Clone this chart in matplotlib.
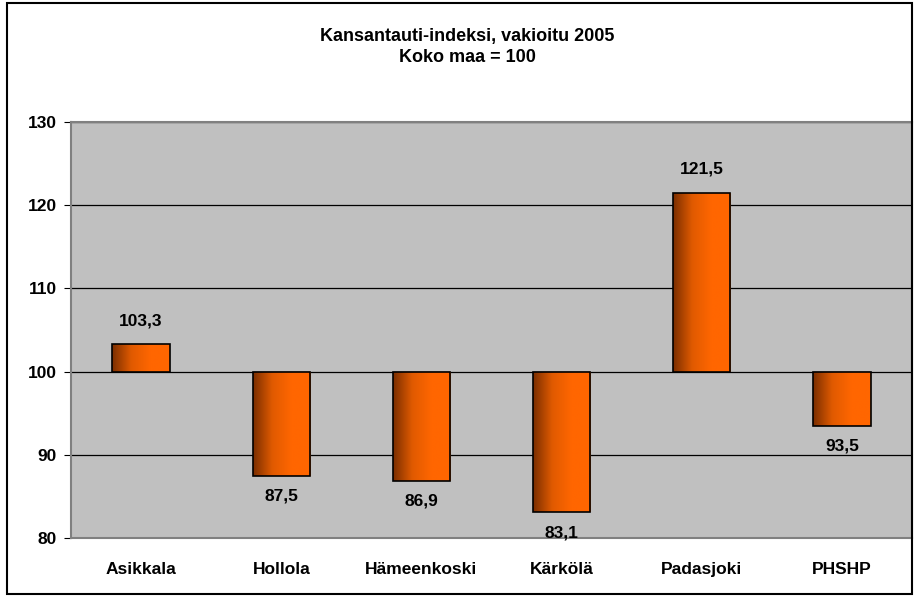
import matplotlib.pyplot as plt
import numpy as np
from matplotlib.patches import Rectangle
from matplotlib.colors import LinearSegmentedColormap

plt.rcParams['font.family'] = ['Liberation Sans', 'DejaVu Sans']
plt.rcParams['font.weight'] = 'bold'

# data
kunnat = ['Asikkala', 'Hollola', 'Hämeenkoski', 'Kärkölä', 'Padasjoki', 'PHSHP']
indeksi = [103.3, 87.5, 86.9, 83.1, 121.5, 93.5]
perustaso = 100
y_ticks = [80, 90, 100, 110, 120, 130]

fig = plt.figure(figsize=(9.17, 5.97), dpi=100)
ax = fig.add_axes([71 / 917, 1 - 538 / 597, 841 / 917, 416 / 597])
ax.set_facecolor('#C0C0C0')

x = np.arange(len(kunnat))
leveys = 0.41
gradient = np.linspace(0, 1, 256).reshape(1, -1)
cmap = LinearSegmentedColormap.from_list('oranssi', ['#7A2E00', '#E05A00', '#FF6600', '#FF6600'])

for xi, v in zip(x, indeksi):
    ala, yla = min(v, perustaso), max(v, perustaso)
    img = ax.imshow(gradient, cmap=cmap, aspect='auto', zorder=3,
                    extent=[xi - leveys / 2, xi + leveys / 2, ala, yla])
    rect = Rectangle((xi - leveys / 2, ala), leveys, yla - ala,
                     facecolor='none', edgecolor='black', lw=1.2, zorder=4)
    ax.add_patch(rect)
    img.set_clip_path(rect)
    teksti = f'{v:.1f}'.replace('.', ',')
    if v >= perustaso:
        ax.text(xi, yla + 1.9, teksti, ha='center', va='bottom', fontsize=12.5, fontweight='bold')
    else:
        ax.text(xi, ala - 1.6, teksti, ha='center', va='top', fontsize=12.5, fontweight='bold')

ax.set_xlim(-0.5, len(kunnat) - 0.5)
ax.set_ylim(80, 130)
ax.set_yticks(y_ticks)
ax.set_yticklabels([str(t) for t in y_ticks], fontsize=12.5, fontweight='bold')
ax.set_xticks(x)
ax.set_xticklabels(kunnat, fontsize=12.5, fontweight='bold')
ax.tick_params(axis='x', length=0, pad=17)
ax.tick_params(axis='y', length=5, direction='out', pad=5)
ax.grid(axis='y', color='black', lw=0.9, zorder=1)
ax.set_axisbelow(True)
for side in ['left', 'bottom', 'top', 'right']:
    ax.spines[side].set_color('#808080')
    ax.spines[side].set_linewidth(1.5)

fig.text(0.51, 1 - 36 / 597, 'Kansantauti-indeksi, vakioitu 2005', ha='center', va='center',
         fontsize=13, fontweight='bold')
fig.text(0.51, 1 - 58 / 597, 'Koko maa = 100', ha='center', va='center',
         fontsize=13, fontweight='bold')

fig.patches.append(Rectangle((7 / 917, 3 / 597), 905 / 917, 591 / 597, transform=fig.transFigure,
                             facecolor='none', edgecolor='black', lw=1.5))

fig.savefig('out.png', dpi=100)
